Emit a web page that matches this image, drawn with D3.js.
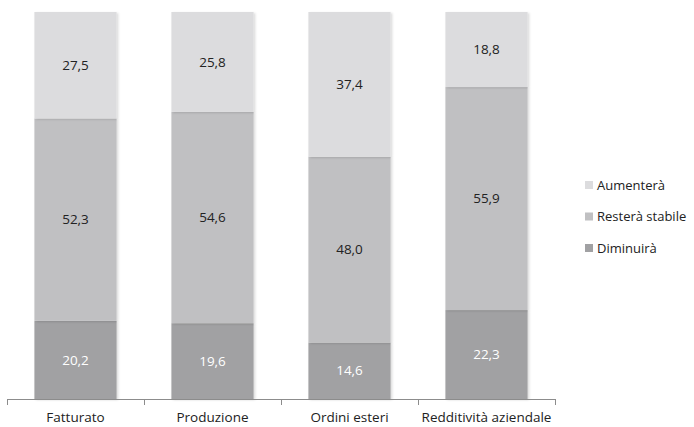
<!DOCTYPE html>
<html>
<head>
<meta charset="utf-8">
<script src="https://cdn.jsdelivr.net/npm/d3@7"></script>
<style>
  body { margin: 0; background: #fff; }
  text { font-family: "Open Sans", "Liberation Sans", sans-serif; }
</style>
</head>
<body>
<div class="canvas"></div>
<script>
const categories = ['Fatturato', 'Produzione', 'Ordini esteri', 'Redditività aziendale'];
const seriesNames = ['Diminuirà', 'Resterà stabile', 'Aumenterà'];
const diminuira = [20.2, 19.6, 14.6, 22.3];
const stabile = [52.3, 54.6, 48.0, 55.9];
const aumentera = [27.5, 25.8, 37.4, 18.8];

const colors = ['#a1a1a3', '#c0c0c2', '#dcdcde'];
const textColors = ['#ffffff', '#222222', '#222222'];

const width = 694, height = 427;
const svg = d3.select('.canvas').append('svg')
  .attr('width', width)
  .attr('height', height);

// shadow for the bars
const defs = svg.append('defs');
const filter = defs.append('filter').attr('id', 'shadow')
  .attr('x', '-10%').attr('y', '-10%').attr('width', '130%').attr('height', '130%');
filter.append('feDropShadow')
  .attr('dx', 1.5).attr('dy', 1).attr('stdDeviation', 1.2)
  .attr('flood-color', '#000').attr('flood-opacity', 0.15);

const margin = { top: 12, left: 7 };
const plotRight = 555;
const plotBottom = 399;

// build rows, normalized to 100%
const data = categories.map((c, i) => {
  const total = diminuira[i] + stabile[i] + aumentera[i];
  return {
    name: c,
    values: [diminuira[i], stabile[i], aumentera[i]],
    shares: [diminuira[i] / total, stabile[i] / total, aumentera[i] / total]
  };
});

const stack = d3.stack()
  .keys([0, 1, 2])
  .value((d, k) => d.shares[k]);
const layers = stack(data);

const x = d3.scaleBand()
  .domain(categories)
  .range([margin.left, plotRight])
  .paddingInner(0.4)
  .paddingOuter(0.2);

const y = d3.scaleLinear()
  .domain([0, 1])
  .range([plotBottom, margin.top]);

const graph = svg.append('g');

const layerGroups = graph.selectAll('g.layer')
  .data(layers)
  .enter().append('g')
  .attr('class', 'layer');

layerGroups.selectAll('rect')
  .data(d => d)
  .enter().append('rect')
  .attr('x', d => x(d.data.name))
  .attr('y', d => y(d[1]))
  .attr('width', x.bandwidth())
  .attr('height', d => y(d[0]) - y(d[1]))
  .attr('fill', function() { return colors[d3.select(this.parentNode).datum().key]; })
  .attr('filter', 'url(#shadow)');

// value labels
layers.forEach(layer => {
  graph.append('g').selectAll('text')
    .data(layer)
    .enter().append('text')
    .attr('x', d => x(d.data.name) + x.bandwidth() / 2)
    .attr('y', d => (y(d[0]) + y(d[1])) / 2)
    .attr('dy', '0.35em')
    .attr('text-anchor', 'middle')
    .attr('font-size', 13.5)
    .attr('fill', textColors[layer.key])
    .text(d => d.data.values[layer.key].toFixed(1).replace('.', ','));
});

// x axis with ticks between categories
const axis = svg.append('g');
axis.append('line')
  .attr('x1', margin.left).attr('x2', plotRight)
  .attr('y1', plotBottom + 0.5).attr('y2', plotBottom + 0.5)
  .attr('stroke', '#8c8c8c');
const tickPos = categories.map(c => x(c) - x.step() * x.paddingInner() / 2);
tickPos.push(plotRight);
tickPos[0] = margin.left;
axis.selectAll('line.tick')
  .data(tickPos)
  .enter().append('line')
  .attr('class', 'tick')
  .attr('x1', d => Math.round(d) + 0.5).attr('x2', d => Math.round(d) + 0.5)
  .attr('y1', plotBottom).attr('y2', plotBottom + 6)
  .attr('stroke', '#8c8c8c');
axis.selectAll('text')
  .data(categories)
  .enter().append('text')
  .attr('x', d => x(d) + x.bandwidth() / 2)
  .attr('y', 417.5)
  .attr('dy', '0.35em')
  .attr('text-anchor', 'middle')
  .attr('font-size', 13.5)
  .attr('fill', '#222')
  .text(d => d);

// legend (top series first)
const legend = svg.append('g').attr('transform', 'translate(585, 185)');
const legendItems = legend.selectAll('g')
  .data([2, 1, 0])
  .enter().append('g')
  .attr('transform', (d, i) => `translate(0, ${i * 31.5})`);
legendItems.append('rect')
  .attr('x', 0).attr('y', -4)
  .attr('width', 8).attr('height', 8)
  .attr('fill', d => colors[d]);
legendItems.append('text')
  .attr('x', 12).attr('y', 0)
  .attr('dy', '0.35em')
  .attr('font-size', 13)
  .attr('fill', '#222')
  .text(d => seriesNames[d]);
</script>
</body>
</html>
